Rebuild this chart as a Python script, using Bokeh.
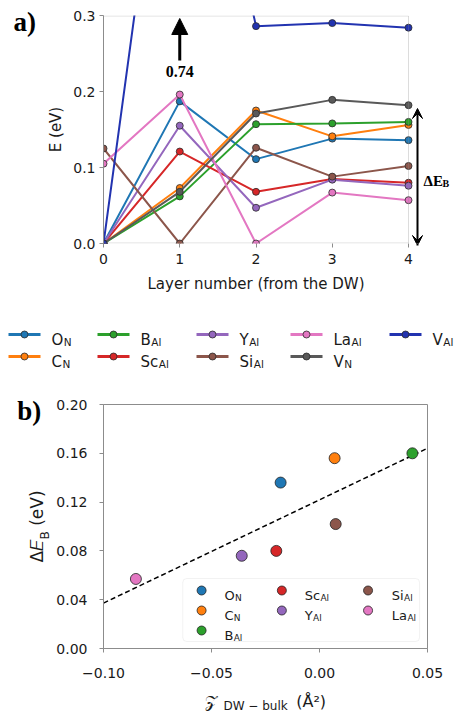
import numpy as np
from bokeh.core.properties import value
from bokeh.embed import file_html
from bokeh.models import (Arrow, BoxAnnotation, CustomJSTickFormatter, FixedTicker,
                          Label, NormalHead, Range1d, VeeHead)
from bokeh.plotting import figure
from bokeh.resources import INLINE

# ---------------- data ----------------
layers = [0, 1, 2, 3, 4]

species_main = ["O", "C", "B", "Sc", "Y", "Si", "La", "V", "V"]
species_sub = ["N", "N", "Al", "Al", "Al", "Al", "Al", "N", "Al"]
species_colors = ["#1f77b4", "#ff7f0e", "#2ca02c", "#d62728", "#9467bd",
                  "#8c564b", "#e377c2", "#595959", "#2233b0"]

E_O_N = [0.0, 0.187, 0.111, 0.138, 0.136]
E_C_N = [0.0, 0.073, 0.175, 0.141, 0.156]
E_B_Al = [0.0, 0.062, 0.157, 0.158, 0.160]
E_Sc_Al = [0.0, 0.121, 0.068, 0.085, 0.080]
E_Y_Al = [0.0, 0.155, 0.047, 0.084, 0.076]
E_Si_Al = [0.125, 0.0, 0.126, 0.088, 0.102]
E_La_Al = [0.105, 0.196, 0.0, 0.067, 0.057]
E_V_N = [0.0, 0.068, 0.171, 0.189, 0.182]
E_V_Al = [0.0, 0.74, 0.286, 0.290, 0.284]
energies = [E_O_N, E_C_N, E_B_Al, E_Sc_Al, E_Y_Al, E_Si_Al, E_La_Al, E_V_N, E_V_Al]

# panel b: the seven substitutional dopants (indices into the species lists)
b_species = [0, 1, 2, 3, 4, 5, 6]
z_dw_bulk = [-0.018, 0.007, 0.043, -0.020, -0.036, 0.0075, -0.085]
delta_E_B = [0.136, 0.156, 0.160, 0.080, 0.076, 0.102, 0.057]

a_yticks = [0.0, 0.1, 0.2, 0.3]
b_xticks = [-0.10, -0.05, 0.0, 0.05]
b_yticks = [0.0, 0.04, 0.08, 0.12, 0.16, 0.20]

# ---------------- style ----------------
SANS = "DejaVu Sans"
SERIF = "Liberation Serif"
GREY = "#8c8c8c"
INK = "#1a1a1a"
W = 458

# DejaVu Sans advance widths (em) used to place subscripts after their base text
EM = {"O": .787, "C": .698, "B": .686, "S": .635, "c": .550, "Y": .611,
      "i": .278, "L": .557, "a": .613, "V": .684}


def text_width(s, size):
    return sum(EM[ch] for ch in s) * size


def style_axes(p):
    p.grid.visible = False
    p.outline_line_color = GREY
    p.outline_line_width = 1
    for ax in p.axis:
        ax.axis_line_color = GREY
        ax.major_tick_line_color = GREY
        ax.major_tick_out = 4
        ax.major_tick_in = 0
        ax.minor_tick_line_color = None
        ax.major_label_text_font = SANS
        ax.major_label_text_font_size = "14px"
        ax.major_label_text_color = INK
        ax.axis_label_text_font = SANS
        ax.axis_label_text_font_style = "normal"
        ax.axis_label_text_color = INK


# ---------------- panel a ----------------
# the frame runs to the right edge so the barrier arrow can live inside it;
# the visible box is drawn separately over layers 0..4
A_L, A_T, A_BOX_W, A_H, A_HEIGHT = 103, 15, 305, 228, 300
A_FRAME_W = W - A_L
x_end = layers[-1] * A_FRAME_W / A_BOX_W
top = figure(width=W, height=A_HEIGHT, output_backend="svg", toolbar_location=None,
             x_range=Range1d(layers[0], x_end), y_range=Range1d(a_yticks[0], a_yticks[-1]),
             min_border_left=A_L, min_border_right=0,
             min_border_top=A_T, min_border_bottom=A_HEIGHT - A_T - A_H)
top.extra_x_ranges = {"px": Range1d(0, A_FRAME_W)}
top.extra_y_ranges = {"px": Range1d(A_H, 0)}
style_axes(top)
top.outline_line_color = None
top.xaxis.axis_line_color = None
top.xaxis.ticker = FixedTicker(ticks=layers)
top.yaxis.ticker = FixedTicker(ticks=a_yticks)
top.yaxis.formatter = CustomJSTickFormatter(code="return tick.toFixed(1);")
top.xaxis.major_label_standoff = 6
top.yaxis.major_label_standoff = 4
top.yaxis.axis_label = "E (eV)"
top.yaxis.axis_label_text_font_size = "15px"
top.yaxis.axis_label_standoff = 5

top.add_layout(BoxAnnotation(left=0, right=A_BOX_W, top=0.5, bottom=A_H - 0.5,
                             x_range_name="px", y_range_name="px",
                             fill_color=None, line_color=GREY, line_width=1))

for e, c in zip(energies, species_colors):
    top.line(layers, e, line_color=c, line_width=2)
    top.scatter(layers, e, size=7, fill_color=c, line_color="#2b2b2b", line_width=0.8)

# V_Al at layer 1 runs off the axis: arrow plus its value
top.add_layout(Arrow(end=NormalHead(size=16, fill_color="black", line_color="black"),
                     x_start=layers[1], y_start=45, x_end=layers[1], y_end=3,
                     y_range_name="px", line_width=3, line_color="black"))
top.add_layout(Label(x=layers[1], y=56, y_range_name="px", text=f"{E_V_Al[1]:.2f}",
                     text_font=SERIF, text_font_style="bold", text_font_size="16px",
                     text_align="center", text_baseline="middle", text_color="black"))

# barrier span to the right of the box
top.add_layout(Arrow(start=VeeHead(size=10, fill_color="black", line_color="black"),
                     end=VeeHead(size=10, fill_color="black", line_color="black"),
                     x_start=314, y_start=230, x_end=314, y_end=93,
                     x_range_name="px", y_range_name="px", line_width=2, line_color="black"))
top.add_layout(Label(x=320, y=165, x_range_name="px", y_range_name="px", text="ΔE",
                     text_font=SERIF, text_font_style="bold", text_font_size="15px",
                     text_baseline="middle", text_color="black"))
top.add_layout(Label(x=339, y=167.5, x_range_name="px", y_range_name="px", text="B",
                     text_font=SERIF, text_font_style="bold", text_font_size="10px",
                     text_baseline="middle", text_color="black"))

top.add_layout(Label(x=-90, y=6, x_range_name="px", y_range_name="px", text="a)",
                     text_font=SERIF, text_font_style="bold", text_font_size="27px",
                     text_baseline="middle", text_color="black"), "left")
top.add_layout(Label(x=A_BOX_W / 2, y=268, x_range_name="px", y_range_name="px",
                     text="Layer number (from the DW)", text_font=SANS, text_font_size="15px",
                     text_align="center", text_baseline="middle", text_color=INK), "below")

# ---------------- shared legend strip ----------------
L_HEIGHT = 80
LEG_COL_X = [8, 97, 196, 290, 389]
LEG_ROW_Y = [34, 56]
leg = figure(width=W, height=L_HEIGHT, output_backend="svg", toolbar_location=None,
             x_range=Range1d(0, W), y_range=Range1d(L_HEIGHT, 0),
             x_axis_type=None, y_axis_type=None, min_border=0)
leg.outline_line_color = None
leg.grid.visible = False
for i, (m, s, c) in enumerate(zip(species_main, species_sub, species_colors)):
    x0 = LEG_COL_X[i // 2]
    y0 = LEG_ROW_Y[i % 2]
    leg.segment(x0=x0, y0=y0, x1=x0 + 32, y1=y0, line_color=c, line_width=3)
    leg.scatter(x=x0 + 16, y=y0, size=7, fill_color=c, line_color="#2b2b2b", line_width=0.8)
    leg.text(x=[x0 + 43], y=[y0 + 5.5], text=[m], text_font=value(SANS), text_font_size="15px",
             text_color=INK, text_baseline="alphabetic")
    leg.text(x=[x0 + 43 + text_width(m, 15) + 0.5], y=[y0 + 7.5], text=[s], text_font=value(SANS),
             text_font_size="10.5px", text_color=INK, text_baseline="alphabetic")

# ---------------- panel b ----------------
B_L, B_T, B_W, B_H, B_HEIGHT = 100, 24, 327, 244, 333
bot = figure(width=W, height=B_HEIGHT, output_backend="svg", toolbar_location=None,
             x_range=Range1d(b_xticks[0], b_xticks[-1]), y_range=Range1d(b_yticks[0], b_yticks[-1]),
             min_border_left=B_L, min_border_right=W - B_L - B_W,
             min_border_top=B_T, min_border_bottom=B_HEIGHT - B_T - B_H)
bot.extra_x_ranges = {"px": Range1d(0, B_W)}
bot.extra_y_ranges = {"px": Range1d(B_H, 0)}
style_axes(bot)
bot.xaxis.ticker = FixedTicker(ticks=b_xticks)
bot.yaxis.ticker = FixedTicker(ticks=b_yticks)
bot.xaxis.formatter = CustomJSTickFormatter(
    code="return (tick < -1e-9 ? '\u2212' : '') + Math.abs(tick).toFixed(2);")
bot.yaxis.formatter = CustomJSTickFormatter(code="return tick.toFixed(2);")
bot.xaxis.major_label_standoff = 15
bot.yaxis.major_label_standoff = 12
bot.xaxis.axis_label = "\U0001D4B5" + "\u2003" * 4 + "\u00a0" * 3 + "(Å²)"
bot.xaxis.axis_label_text_font_size = "16px"
bot.xaxis.axis_label_standoff = 11
bot.yaxis.axis_label = "Δ\U0001D438" + "\u00a0\u00a0\u2009" + "(eV)"
bot.yaxis.axis_label_text_font_size = "17px"
bot.yaxis.axis_label_standoff = 6

# least-squares trend across the axis span
slope, intercept = np.polyfit(z_dw_bulk, delta_E_B, 1)
fit_x = np.array([b_xticks[0], b_xticks[-1]])
bot.line(fit_x, slope * fit_x + intercept, line_color="black", line_width=1.5, line_dash="5 3")

bot.scatter(z_dw_bulk, delta_E_B, size=11,
            fill_color=[species_colors[k] for k in b_species],
            line_color="#222222", line_width=0.8)

# legend box: three columns holding 3, 2 and 2 entries
bot.add_layout(BoxAnnotation(left=80, right=319, top=174, bottom=237,
                             x_range_name="px", y_range_name="px",
                             fill_color="white", fill_alpha=0.85,
                             line_color="#d4d4d4", line_width=1, border_radius=4,
                             level="underlay"))
LEGB_COL = [0, 0, 0, 1, 1, 2, 2]
LEGB_ROW = [0, 1, 2, 0, 1, 0, 1]
LEGB_MARK_X = [99, 180, 267]
LEGB_TEXT_X = [122, 203, 291]
LEGB_ROW_Y = [186, 206, 226]
for j, k in enumerate(b_species):
    col, row = LEGB_COL[j], LEGB_ROW[j]
    y0 = LEGB_ROW_Y[row]
    bot.scatter(x=LEGB_MARK_X[col], y=y0, size=9, fill_color=species_colors[k],
                line_color="#222222", line_width=0.8, x_range_name="px", y_range_name="px")
    m, s = species_main[k], species_sub[k]
    bot.text(x=[LEGB_TEXT_X[col]], y=[y0 + 5], text=[m], text_font=value(SANS),
             text_font_size="13px", text_color=INK, text_baseline="alphabetic",
             x_range_name="px", y_range_name="px")
    bot.text(x=[LEGB_TEXT_X[col] + text_width(m, 13) + 0.5], y=[y0 + 7], text=[s],
             text_font=value(SANS), text_font_size="9px", text_color=INK,
             text_baseline="alphabetic", x_range_name="px", y_range_name="px")

# subscripts of the axis titles
bot.add_layout(Label(x=121, y=301, x_range_name="px", y_range_name="px", text="DW \u2212 bulk",
                     text_font=SANS, text_font_size="12px", text_color=INK,
                     text_baseline="middle"), "above")
bot.add_layout(Label(x=-59, y=135, x_range_name="px", y_range_name="px", text="B",
                     text_font=SANS, text_font_size="12px", text_color=INK,
                     text_baseline="middle", angle=np.pi / 2), "right")
bot.add_layout(Label(x=-87, y=6, x_range_name="px", y_range_name="px", text="b)",
                     text_font=SERIF, text_font_style="bold", text_font_size="27px",
                     text_baseline="middle", text_color="black"), "left")

open("out.html", "w").write(file_html([top, leg, bot], INLINE))
